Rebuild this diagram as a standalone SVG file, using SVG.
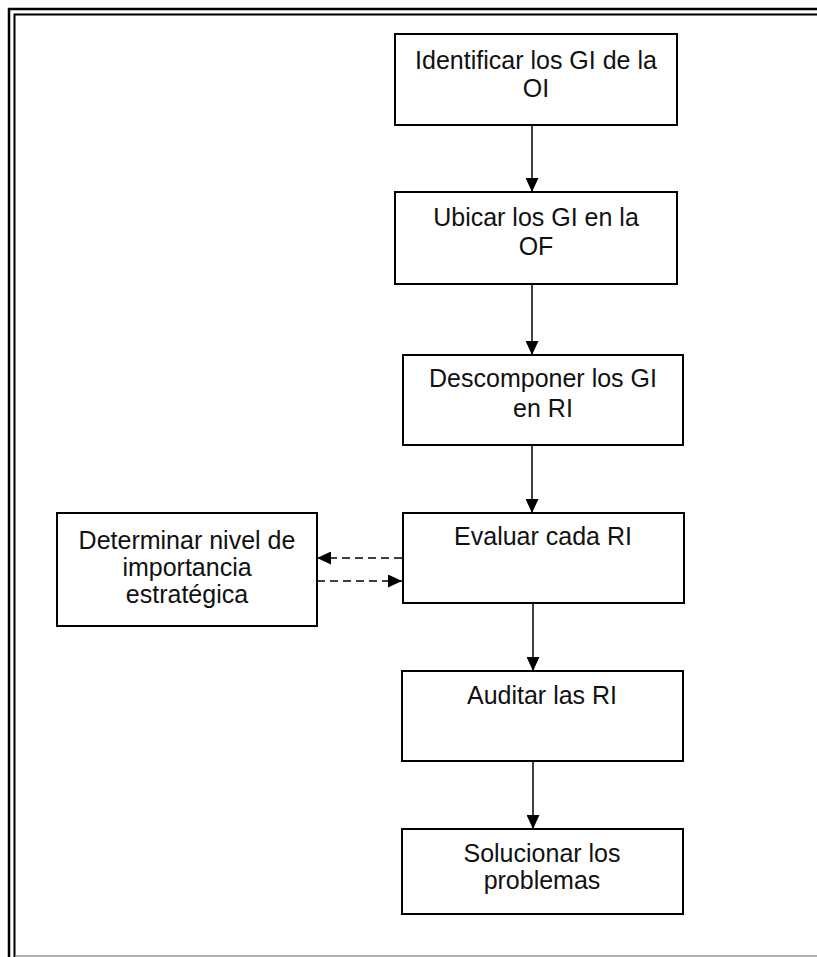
<svg xmlns="http://www.w3.org/2000/svg" width="817" height="957" viewBox="0 0 817 957">
  <style>
    .box { fill: #ffffff; stroke: #000000; stroke-width: 2; }
    .label { font-family: "Liberation Sans", Arial, sans-serif; font-size: 25px; fill: #111111; text-anchor: middle; }
    .flow { stroke: #000000; stroke-width: 1.5; fill: none; }
    .dash { stroke: #000000; stroke-width: 1.5; fill: none; stroke-dasharray: 8 5; }
    .frame { stroke: #000000; fill: none; }
  </style>
  <defs>
    <marker id="arrow" viewBox="0 0 14 13" refX="14" refY="6.5" markerWidth="14" markerHeight="13" markerUnits="userSpaceOnUse" orient="auto">
      <path d="M0,0 L14,6.5 L0,13 Z" fill="#000000"/>
    </marker>
  </defs>

  <!-- page frame: double rule on top and left, light rule at bottom -->
  <g id="frame">
    <path class="frame" d="M9,957 L9,9 L817,9" stroke-width="2.5"/>
    <path class="frame" d="M14.5,957 L14.5,14.5 L817,14.5" stroke-width="2"/>
    <line x1="15" y1="956" x2="817" y2="956" stroke="#999999" stroke-width="1.5"/>
  </g>

  <g id="connectors">
    <line class="flow" x1="532" y1="125" x2="532" y2="192" marker-end="url(#arrow)"/>
    <line class="flow" x1="532" y1="284" x2="532" y2="355" marker-end="url(#arrow)"/>
    <line class="flow" x1="532" y1="445" x2="532" y2="513" marker-end="url(#arrow)"/>
    <line class="flow" x1="533" y1="603" x2="533" y2="671" marker-end="url(#arrow)"/>
    <line class="flow" x1="533" y1="761" x2="533" y2="829" marker-end="url(#arrow)"/>
    <line class="dash" x1="402" y1="558" x2="317" y2="558" marker-end="url(#arrow)"/>
    <line class="dash" x1="317" y1="581" x2="402" y2="581" marker-end="url(#arrow)"/>
  </g>

  <g id="identificar">
    <rect class="box" x="395" y="34" width="282" height="91"/>
    <text class="label" x="536" y="69">Identificar los GI de la</text>
    <text class="label" x="536" y="97">OI</text>
  </g>

  <g id="ubicar">
    <rect class="box" x="395" y="192" width="282" height="92"/>
    <text class="label" x="536" y="226">Ubicar los GI en la</text>
    <text class="label" x="536" y="255">OF</text>
  </g>

  <g id="descomponer">
    <rect class="box" x="403" y="355" width="280" height="90"/>
    <text class="label" x="543" y="387">Descomponer los GI</text>
    <text class="label" x="543" y="417">en RI</text>
  </g>

  <g id="evaluar">
    <rect class="box" x="403" y="513" width="281" height="90"/>
    <text class="label" x="543" y="545">Evaluar cada RI</text>
  </g>

  <g id="determinar">
    <rect class="box" x="57" y="513" width="260" height="113"/>
    <text class="label" x="187" y="549">Determinar nivel de</text>
    <text class="label" x="187" y="576">importancia</text>
    <text class="label" x="187" y="603">estratégica</text>
  </g>

  <g id="auditar">
    <rect class="box" x="402" y="671" width="281" height="90"/>
    <text class="label" x="542" y="704">Auditar las RI</text>
  </g>

  <g id="solucionar">
    <rect class="box" x="402" y="829" width="281" height="85"/>
    <text class="label" x="542" y="862">Solucionar los</text>
    <text class="label" x="542" y="889">problemas</text>
  </g>
</svg>
